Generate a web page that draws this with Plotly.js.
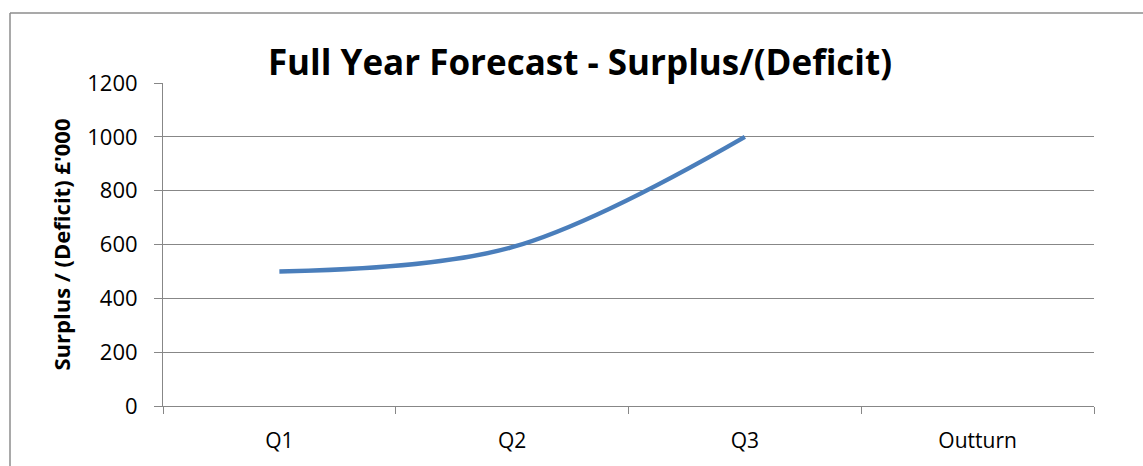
<!DOCTYPE html>
<html>
<head>
<meta charset="utf-8">
<script src="https://cdn.plot.ly/plotly-3.0.1.min.js"></script>
<style>html,body{margin:0;padding:0;background:#fff;}#chart{width:1143px;height:466px;}</style>
</head>
<body>
<div id="chart"></div>
<script>
var categories = ["Q1", "Q2", "Q3", "Outturn"];
var surplus = [500, 590, 1000, null];
var yTicks = [0, 200, 400, 600, 800, 1000, 1200];

var W = 1143, H = 466;
var mL = 163, mR = 49, mT = 83, mB = 60;
var pw = W - mL - mR, ph = H - mT - mB;
function px(x) { return (x - mL) / pw; }
function py(y) { return (H - mB - y) / ph; }

var grid = "#878787";
var font = "'Open Sans', Lato, sans-serif";

var trace = {
  x: categories,
  y: surplus,
  type: "scatter",
  mode: "lines",
  line: { color: "#4A7EBB", width: 4.5, shape: "spline", smoothing: 1 },
  connectgaps: false,
  hoverinfo: "x+y"
};

var layout = {
  width: W, height: H,
  margin: { l: mL, r: mR, t: mT, b: mB, pad: 0 },
  paper_bgcolor: "#ffffff",
  plot_bgcolor: "#ffffff",
  showlegend: false,
  font: { family: font, color: "#000000" },
  title: {
    text: "<b>Full Year Forecast - Surplus/(Deficit)</b>",
    font: { family: font, size: 35, color: "#000000" },
    xref: "paper", x: px(580), xanchor: "center",
    yref: "container", y: 1 - 63 / H, yanchor: "middle"
  },
  xaxis: {
    type: "category",
    categoryorder: "array",
    categoryarray: categories,
    range: [-0.5, 3.5],
    showline: true, linecolor: grid, linewidth: 1,
    showgrid: false, zeroline: false,
    ticks: "outside", tickson: "boundaries", ticklen: 7, tickcolor: grid, tickwidth: 1,
    ticklabelstandoff: 16,
    tickfont: { family: font, size: 21, color: "#000000" },
    fixedrange: true
  },
  yaxis: {
    range: [0, 1200],
    tickvals: yTicks,
    ticktext: yTicks.map(String),
    showline: true, linecolor: grid, linewidth: 1,
    showgrid: true, gridcolor: grid, gridwidth: 1,
    zeroline: false,
    ticks: "outside", ticklen: 8, tickcolor: grid, tickwidth: 1,
    ticklabelstandoff: 12,
    tickfont: { family: font, size: 22, color: "#000000" },
    title: { text: "<b>Surplus / (Deficit) £'000</b>", font: { family: font, size: 22, color: "#000000" }, standoff: 10 },
    fixedrange: true
  },
  shapes: [
    { type: "line", xref: "paper", yref: "paper", x0: px(10), x1: px(1143), y0: py(13), y1: py(13), line: { color: "#8c8c8c", width: 1.5 } },
    { type: "line", xref: "paper", yref: "paper", x0: px(10), x1: px(10), y0: py(13), y1: py(466), line: { color: "#8c8c8c", width: 1.5 } }
  ]
};

Plotly.newPlot("chart", [trace], layout, { displayModeBar: false, staticPlot: true });
</script>
</body>
</html>
